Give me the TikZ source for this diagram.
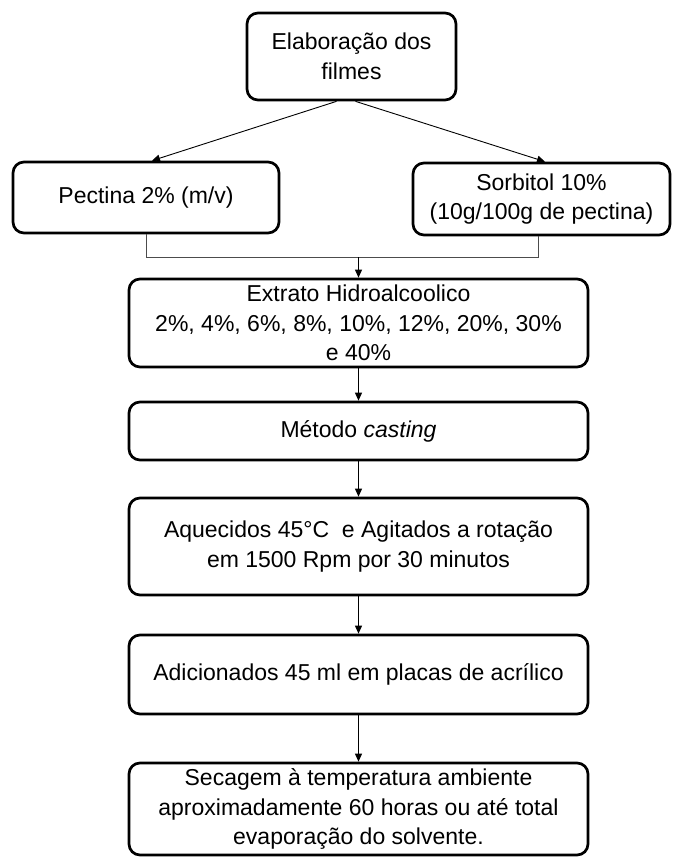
\documentclass[tikz,border=0pt]{standalone}
\usepackage{fontspec}
\setmainfont{Liberation Sans}
\usetikzlibrary{arrows.meta}
\begin{document}
\begin{tikzpicture}[x=1pt,y=-1pt,
  box/.style={draw=black, line width=2.7pt, rounded corners=11pt, align=center,
    font=\fontsize{23}{29.5}\selectfont, inner sep=0pt, fill=white},
  arr/.style={draw=black, line width=0.9pt, -{Triangle[length=8pt,width=7pt]}},
  joinline/.style={draw=black!70, line width=1pt}]
\useasboundingbox[fill=white] (0,0) rectangle (673,857);

\node[box, minimum width=209pt, minimum height=87pt] (top) at (351.5,56.5)
  {Elaboração dos\\filmes};
\node[box, minimum width=266pt, minimum height=71pt] (pectina) at (146,197.5)
  {Pectina 2\% (m/v)};
\node[box, minimum width=257pt, minimum height=72pt] (sorbitol) at (541.5,199)
  {Sorbitol 10\%\\(10g/100g de pectina)};
\node[box, minimum width=459pt, minimum height=88pt] (extrato) at (358.5,323)
  {Extrato Hidroalcoolico\\2\%, 4\%, 6\%, 8\%, 10\%, 12\%, 20\%, 30\%\\e 40\%};
\node[box, minimum width=459pt, minimum height=58pt] (metodo) at (358.5,431)
  {Método \textit{casting}};
\node[box, minimum width=459pt, minimum height=97pt] (aquecidos) at (358.5,546.5)
  {Aquecidos 45°C\ \ e Agitados a rotação\\em 1500 Rpm por 30 minutos};
\node[box, minimum width=459pt, minimum height=79pt] (adicionados) at (358.5,674.5)
  {Adicionados 45 ml em placas de acrílico};
\node[box, minimum width=459pt, minimum height=92pt] (secagem) at (358.5,809)
  {Secagem à temperatura ambiente\\aproximadamente 60 horas ou até total\\evaporação do solvente.};

\coordinate (jl) at (146,257);
\coordinate (jr) at (538,257);
\coordinate (jm) at (358.5,257);

\draw[arr] ([xshift=-15pt]top.south) -- ([xshift=6pt]pectina.north);
\draw[arr] ([xshift=4pt]top.south) -- ([xshift=3.5pt]sorbitol.north);
\draw[joinline] (pectina.south) -- (jl) -- (jr) -- ([xshift=-3.5pt]sorbitol.south);
\draw[arr] (jm) -- (extrato.north);
\draw[arr] (extrato.south) -- (metodo.north);
\draw[arr] (metodo.south) -- (aquecidos.north);
\draw[arr] (aquecidos.south) -- (adicionados.north);
\draw[arr] (adicionados.south) -- (secagem.north);
\end{tikzpicture}
\end{document}
